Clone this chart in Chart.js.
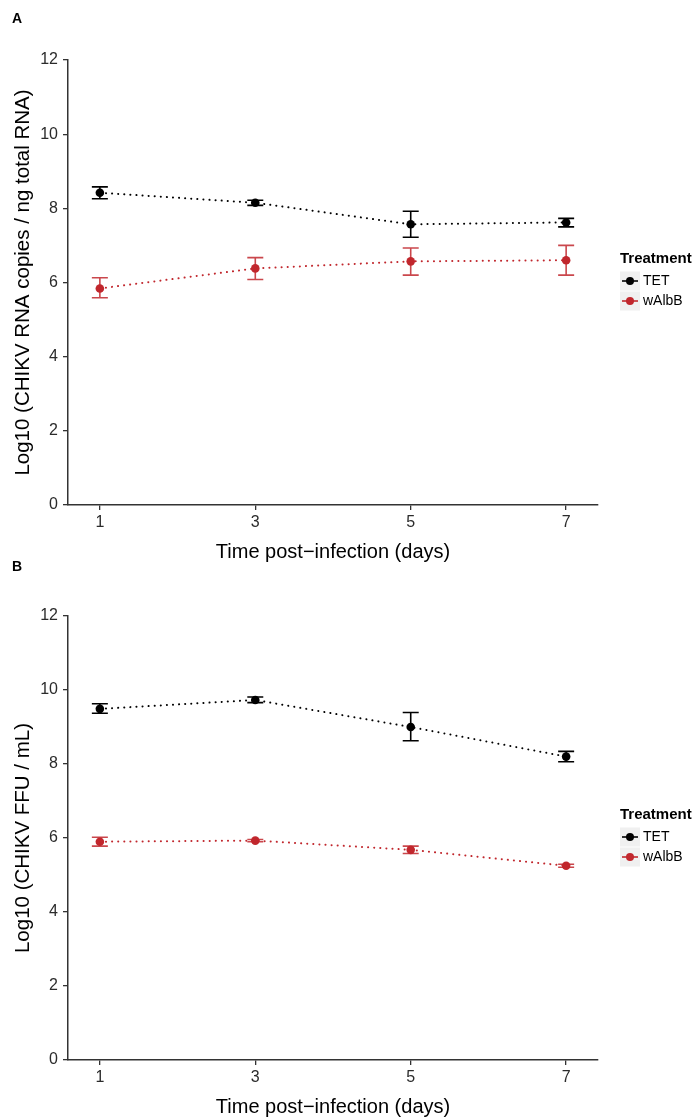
<!DOCTYPE html>
<html>
<head>
<meta charset="utf-8">
<script src="https://cdn.jsdelivr.net/npm/chart.js@4"></script>
<style>
  html, body { margin: 0; padding: 0; background: #ffffff; }
  body { width: 697px; height: 1118px; position: relative; overflow: hidden; }
  .panel { position: absolute; left: 0; width: 697px; }
  #wrapA { top: 0; height: 562px; }
  #wrapB { top: 556px; height: 562px; }
</style>
</head>
<body>
<div class="panel" id="wrapA"><canvas id="chartA"></canvas></div>
<div class="panel" id="wrapB"><canvas id="chartB"></canvas></div>
<script>
// ---------- data ----------
const days = [1, 3, 5, 7];
const xTicks = [1, 3, 5, 7];
const yTicks = [0, 2, 4, 6, 8, 10, 12];
const seriesNames = ['TET', 'wAlbB'];

// Panel A: Log10 (CHIKV RNA copies / ng total RNA)
const rnaTET      = [8.42, 8.15, 7.57, 7.62];
const rnaTETLow   = [8.26, 8.08, 7.22, 7.50];
const rnaTETHigh  = [8.58, 8.22, 7.92, 7.73];
const rnaWAlbB     = [5.84, 6.38, 6.57, 6.60];
const rnaWAlbBLow  = [5.59, 6.08, 6.20, 6.20];
const rnaWAlbBHigh = [6.13, 6.67, 6.93, 7.00];

// Panel B: Log10 (CHIKV FFU / mL)
const ffuTET      = [9.49, 9.73, 9.00, 8.20];
const ffuTETLow   = [9.37, 9.66, 8.63, 8.06];
const ffuTETHigh  = [9.63, 9.81, 9.39, 8.34];
const ffuWAlbB     = [5.90, 5.93, 5.68, 5.25];
const ffuWAlbBLow  = [5.78, 5.90, 5.58, 5.21];
const ffuWAlbBHigh = [6.02, 5.96, 5.78, 5.29];

// ---------- styling ----------
const COL_TET = '#000000';
const COL_WALB = '#c1272d';
const FONT = '"Liberation Sans", Arial, Helvetica, sans-serif';

const errorBarPlugin = {
  id: 'errorBars',
  afterDatasetsDraw(chart) {
    const ctx = chart.ctx;
    const xs = chart.scales.x, ys = chart.scales.y;
    chart.data.datasets.forEach((ds, i) => {
      if (!chart.isDatasetVisible(i)) return;
      ctx.save();
      ctx.strokeStyle = ds.errColor;
      ctx.lineWidth = 1.6;
      ds.data.forEach((p, j) => {
        const x = xs.getPixelForValue(p.x);
        const y1 = ys.getPixelForValue(ds.low[j]);
        const y2 = ys.getPixelForValue(ds.high[j]);
        const w = 8;
        ctx.beginPath();
        ctx.moveTo(x, y1); ctx.lineTo(x, y2);
        ctx.moveTo(x - w, y1); ctx.lineTo(x + w, y1);
        ctx.moveTo(x - w, y2); ctx.lineTo(x + w, y2);
        ctx.stroke();
      });
      ctx.restore();
    });
  }
};

const legendPlugin = {
  id: 'ggLegend',
  afterDraw(chart) {
    const ctx = chart.ctx;
    const o = chart.options.plugins.ggLegend;
    ctx.save();
    // panel letter
    ctx.fillStyle = '#000';
    ctx.font = 'bold 14px ' + FONT;
    ctx.textBaseline = 'top';
    ctx.textAlign = 'left';
    ctx.fillText(o.letter, 12, o.letterY);
    // legend title
    const lx = 620;
    ctx.font = 'bold 15px ' + FONT;
    ctx.textBaseline = 'middle';
    ctx.fillText('Treatment', lx, 259);
    const items = [
      { name: seriesNames[0], color: COL_TET, cy: 281 },
      { name: seriesNames[1], color: COL_WALB, cy: 301 }
    ];
    items.forEach(it => {
      ctx.fillStyle = '#f0f0f0';
      ctx.fillRect(lx, it.cy - 9.5, 20, 19);
      ctx.strokeStyle = it.color;
      ctx.lineWidth = 1.6;
      ctx.beginPath();
      ctx.moveTo(lx + 2, it.cy); ctx.lineTo(lx + 18, it.cy);
      ctx.stroke();
      ctx.fillStyle = it.color;
      ctx.beginPath();
      ctx.arc(lx + 10, it.cy, 4, 0, Math.PI * 2);
      ctx.fill();
      ctx.fillStyle = '#000';
      ctx.font = '14px ' + FONT;
      ctx.fillText(it.name, lx + 23, it.cy + 0.5);
    });
    ctx.restore();
  }
};

function toPts(vals) { return days.map((d, i) => ({ x: d, y: vals[i] })); }

function makeChart(id, cfg) {
  const datasets = [
    { label: seriesNames[0], data: toPts(cfg.tet), low: cfg.tetLow, high: cfg.tetHigh,
      borderColor: COL_TET, backgroundColor: COL_TET, errColor: COL_TET },
    { label: seriesNames[1], data: toPts(cfg.walb), low: cfg.walbLow, high: cfg.walbHigh,
      borderColor: COL_WALB, backgroundColor: COL_WALB, errColor: 'rgba(193,39,45,0.85)' }
  ].map(d => Object.assign(d, {
    showLine: true,
    borderWidth: 2,
    borderDash: [0.1, 6],
    borderCapStyle: 'round',
    pointRadius: 4.3,
    pointHoverRadius: 4.3,
    pointBorderWidth: 0,
    tension: 0
  }));

  return new Chart(document.getElementById(id), {
    type: 'scatter',
    data: { datasets },
    options: {
      responsive: true,
      maintainAspectRatio: false,
      animation: false,
      events: [],
      layout: { padding: { left: 0, right: 99, top: 60, bottom: 0 } },
      plugins: {
        legend: { display: false },
        tooltip: { enabled: false },
        ggLegend: { letter: cfg.letter, letterY: cfg.letterY }
      },
      scales: {
        x: {
          type: 'linear',
          min: 0.59, max: 7.41,
          afterBuildTicks: s => { s.ticks = xTicks.map(v => ({ value: v })); },
          afterFit: s => { s.height = cfg.xHeight; },
          border: { display: true, color: '#333', width: 1.5 },
          grid: { display: true, drawOnChartArea: false, drawTicks: true, tickLength: 5, color: '#333', lineWidth: 1.3 },
          ticks: { color: '#2b2b2b', font: { family: FONT, size: 16 }, padding: 3, maxRotation: 0, autoSkip: false },
          title: { display: true, text: 'Time post\u2212infection (days)', color: '#000',
                   font: { family: FONT, size: 20, lineHeight: 1 }, padding: { top: 0, bottom: cfg.xTitlePad } }
        },
        y: {
          min: 0, max: 12,
          afterBuildTicks: s => { s.ticks = yTicks.map(v => ({ value: v })); },
          afterFit: s => { s.width = 68; },
          border: { display: true, color: '#333', width: 1.5 },
          grid: { display: true, drawOnChartArea: false, drawTicks: true, tickLength: 5, color: '#333', lineWidth: 1.3 },
          ticks: { color: '#2b2b2b', font: { family: FONT, size: 16 }, padding: 5 },
          title: { display: true, text: cfg.yTitle, color: '#000',
                   font: { family: FONT, size: 20.5, lineHeight: 1 }, padding: { top: 13, bottom: 0 } }
        }
      }
    },
    plugins: [errorBarPlugin, legendPlugin]
  });
}

makeChart('chartA', {
  tet: rnaTET, tetLow: rnaTETLow, tetHigh: rnaTETHigh,
  walb: rnaWAlbB, walbLow: rnaWAlbBLow, walbHigh: rnaWAlbBHigh,
  yTitle: 'Log10 (CHIKV RNA copies / ng total RNA)',
  letter: 'A', letterY: 12, xHeight: 57, xTitlePad: 0
});
makeChart('chartB', {
  tet: ffuTET, tetLow: ffuTETLow, tetHigh: ffuTETHigh,
  walb: ffuWAlbB, walbLow: ffuWAlbBLow, walbHigh: ffuWAlbBHigh,
  yTitle: 'Log10 (CHIKV FFU / mL)',
  letter: 'B', letterY: 4, xHeight: 58, xTitlePad: 1
});
</script>
</body>
</html>
